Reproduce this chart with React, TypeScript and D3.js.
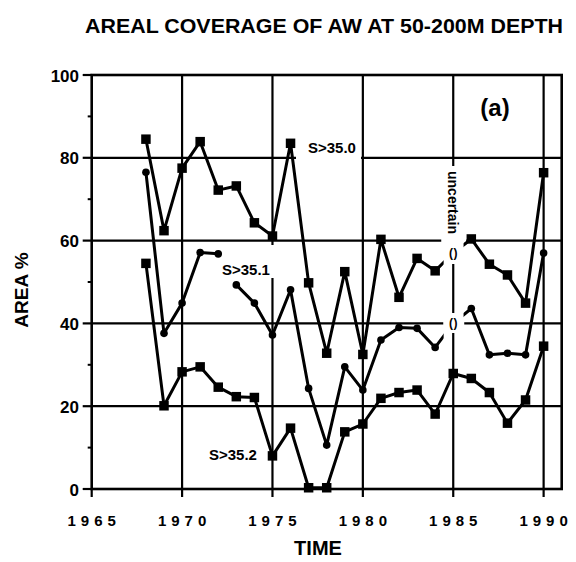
import React from 'react';
import * as d3 from 'd3';

const YEARS = [1968, 1969, 1970, 1971, 1972, 1973, 1974, 1975, 1976, 1977, 1978, 1979, 1980, 1981, 1982, 1983, 1984, 1985, 1986, 1987, 1988, 1989, 1990];
const S350 = [84.5, 62.4, 77.5, 83.9, 72.2, 73.2, 64.3, 61.1, 83.5, 49.8, 32.8, 52.5, 32.5, 60.3, 46.3, 55.7, 52.7, 57, 60.4, 54.3, 51.7, 44.9, 76.4];
const S351 = [76.5, 37.6, 44.9, 57.1, 56.8, 49.3, 44.9, 37.2, 48.1, 24.3, 10.6, 29.5, 23.9, 36, 39, 38.8, 34.2, 40, 43.6, 32.4, 32.8, 32.4, 57];
const S352 = [54.5, 20.1, 28.3, 29.5, 24.6, 22.3, 22.1, 8, 14.7, 0.3, 0.3, 13.8, 15.7, 21.9, 23.3, 23.9, 18.1, 27.9, 26.7, 23.3, 15.9, 21.5, 34.5];
const SERIES_LABELS = ['S>35.0', 'S>35.1', 'S>35.2'];
const X_TICKS = [1965, 1970, 1975, 1980, 1985, 1990];
const X_GRID = [1970, 1975, 1980, 1985, 1990];
const Y_TICKS = [0, 20, 40, 60, 80, 100];
const Y_GRID = [20, 40, 60, 80];
const Y_MINOR = [10, 30, 50, 70, 90];
const UNCERTAIN_YEAR = 1985;
const S351_BREAK_AFTER = 1972;

const FONT = '"Liberation Sans", Arial, Helvetica, sans-serif';

export default function App() {
  const x = d3.scaleLinear().domain([1965, 1991]).range([91.7, 561.7]);
  const y = d3.scaleLinear().domain([0, 100]).range([489, 75]);
  const line = d3.line<[number, number]>().x(d => x(d[0])).y(d => y(d[1]));

  const pts = (vals: number[]) => YEARS.map((yr, i) => [yr, vals[i]] as [number, number]);
  const p350 = pts(S350);
  const p351 = pts(S351);
  const p352 = pts(S352);
  const p351a = p351.filter(d => d[0] <= S351_BREAK_AFTER);
  const p351b = p351.filter(d => d[0] > S351_BREAK_AFTER);

  const [x0, x1] = x.range();
  const [yb, yt] = y.range();
  const sq = d3.symbol(d3.symbolSquare, 90)();
  const iu = YEARS.indexOf(UNCERTAIN_YEAR);

  const squares = (p: [number, number][], skipUncertain: boolean, k: string) =>
    p.filter(d => !(skipUncertain && d[0] === UNCERTAIN_YEAR)).map((d, i) =>
      <path key={k + i} d={sq!} transform={`translate(${x(d[0])},${y(d[1])})`} fill="#000" />);
  const dots = (p: [number, number][], k: string) =>
    p.filter(d => d[0] !== UNCERTAIN_YEAR).map((d, i) =>
      <circle key={k + i} cx={x(d[0])} cy={y(d[1])} r={3.8} fill="#000" />);

  const parens = (v: number, k: string) => (
    <g key={k}>
      <text x={x(UNCERTAIN_YEAR) - 2.2} y={y(v)} fontSize={12} fontWeight="bold" textAnchor="middle" dominantBaseline="central">(</text>
      <text x={x(UNCERTAIN_YEAR) + 2.2} y={y(v)} fontSize={12} fontWeight="bold" textAnchor="middle" dominantBaseline="central">)</text>
    </g>
  );

  return (
    <svg width={576} height={562} style={{ position: 'absolute', left: 0, top: 0, background: '#fff' }} fontFamily={FONT}>
      <defs>
        <clipPath id="gapclip">
          <rect x={0} y={0} width={x(1984.47)} height={562} />
          <rect x={x(1985.57)} y={0} width={576 - x(1985.57)} height={562} />
        </clipPath>
      </defs>
      <rect x={0} y={0} width={576} height={562} fill="#fff" />
      <text x={85} y={33} fontSize={21} fontWeight="bold" textLength={478} lengthAdjust="spacingAndGlyphs">AREAL COVERAGE OF AW AT 50-200M DEPTH</text>

      {Y_GRID.map(v => <line key={'h' + v} x1={x0} x2={x1} y1={y(v)} y2={y(v)} stroke="#000" strokeWidth={2.2} />)}
      {X_GRID.map(v => <line key={'v' + v} x1={x(v)} x2={x(v)} y1={yt} y2={yb} stroke="#000" strokeWidth={2.2} />)}

      <rect x={296} y={146} width={65} height={16} fill="#fff" />
      <rect x={x(UNCERTAIN_YEAR) - 12} y={166} width={25} height={98} fill="#fff" />
      <rect x={x(UNCERTAIN_YEAR) - 10} y={313} width={21} height={20} fill="#fff" />
      <rect x={x(1975) - 5} y={245} width={10} height={33} fill="#fff" />

      {Y_TICKS.map(v => <line key={'yt' + v} x1={x0 - 9} x2={x0} y1={y(v)} y2={y(v)} stroke="#000" strokeWidth={2.2} />)}
      {Y_MINOR.map(v => <line key={'ym' + v} x1={x0 - 4} x2={x0} y1={y(v)} y2={y(v)} stroke="#000" strokeWidth={2} />)}
      {X_TICKS.map(v => <line key={'xt' + v} x1={x(v)} x2={x(v)} y1={yb} y2={yb + 8} stroke="#000" strokeWidth={2.2} />)}

      <rect x={x0} y={yt} width={x1 - x0} height={yb - yt} fill="none" stroke="#000" strokeWidth={2.6} />

      <g fill="none" stroke="#000" strokeWidth={3} strokeLinejoin="round">
        <path d={line(p350)!} clipPath="url(#gapclip)" />
        <path d={line(p351a)!} />
        <path d={line(p351b)!} clipPath="url(#gapclip)" />
        <path d={line(p352)!} />
      </g>
      {squares(p350, true, 'a')}
      {dots(p351, 'b')}
      {squares(p352, false, 'c')}

      {parens(S350[iu], 'pa')}
      {parens(S351[iu], 'pb')}
      <text transform={`translate(${x(UNCERTAIN_YEAR)},171) rotate(90)`} fontSize={14} fontWeight="bold" dominantBaseline="central">uncertain</text>

      <text x={308} y={153} fontSize={15} fontWeight="bold">{SERIES_LABELS[0]}</text>
      <text x={222} y={275} fontSize={15} fontWeight="bold">{SERIES_LABELS[1]}</text>
      <text x={209} y={459.5} fontSize={15} fontWeight="bold">{SERIES_LABELS[2]}</text>
      <text x={495} y={116} fontSize={24} fontWeight="bold" textAnchor="middle">(a)</text>

      {Y_TICKS.map(v => <text key={'yl' + v} x={79} y={y(v) + 1} fontSize={17} fontWeight="bold" textAnchor="end" dominantBaseline="central">{v}</text>)}
      {X_TICKS.map(v => <text key={'xl' + v} x={x(v) + 2.5} y={526} fontSize={15} fontWeight="bold" textAnchor="middle" letterSpacing={5}>{v}</text>)}
      <text x={318} y={555} fontSize={20} fontWeight="bold" textAnchor="middle">TIME</text>
      <text transform="translate(21,290) rotate(-90)" fontSize={19} fontWeight="bold" textAnchor="middle" dominantBaseline="central">AREA %</text>
    </svg>
  );
}
